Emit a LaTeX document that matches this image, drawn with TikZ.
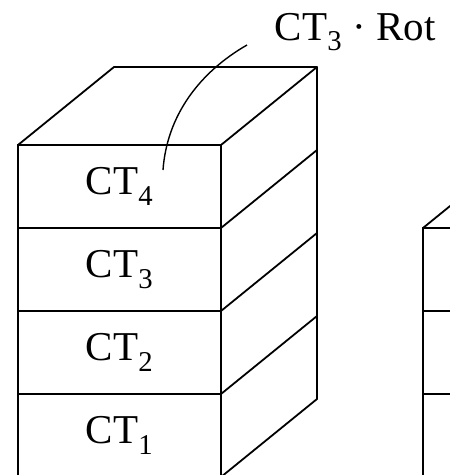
\documentclass[tikz,border=0pt]{standalone}
\usepackage{fontspec}
\setmainfont{Liberation Serif}
\usetikzlibrary{positioning}

\begin{document}
\begin{tikzpicture}[x=1pt,y=-1pt,line width=1.8pt,font=\fontsize{41}{48}\selectfont]
\tikzstyle{cell} = [rectangle, draw, minimum width=203pt, minimum height=83pt,
inner sep=0pt, outer sep=0pt]
\tikzstyle{edge} = [draw, line cap=round, line join=round]
\useasboundingbox (0,0) rectangle (450,475);
\clip (0,0) rectangle (450,475);
% front stack
\node [cell] (ct1) at (119.5,435.5) {CT\textsubscript{1}};
\node [cell, above=0pt of ct1] (ct2) {CT\textsubscript{2}};
\node [cell, above=0pt of ct2] (ct3) {CT\textsubscript{3}};
\node [cell, above=0pt of ct3] (ct4) {CT\textsubscript{4}};
% second stack, cut off
\node [cell, right=202pt of ct3] (next3) {};
\node [cell, below=0pt of next3] (next2) {};
\node [cell, below=0pt of next2] (next1) {};
% top and side faces
\foreach \c in {ct4.north west, ct4.north east, ct4.south east, ct3.south east,
ct2.south east, ct1.south east, next3.north west}
\draw [edge] (\c) -- ++(96,-78);
\coordinate (backl) at ([shift={(96,-78)}]ct4.north west);
\coordinate (backr) at ([shift={(96,-78)}]ct4.north east);
\coordinate (backb) at ([shift={(96,-78)}]ct1.south east);
\draw [edge] (backl) -- (backr) -- (backb);
% label
\node [anchor=base west, inner sep=0pt] (rot) at (274,40) {CT\textsubscript{3} · Rot};
\coordinate (tip) at (247,45);
\coordinate (foot) at (163,170);
\draw [line width=1.4pt] (tip) .. controls (200,72) and (167,115) .. (foot);
\end{tikzpicture}
\end{document}
